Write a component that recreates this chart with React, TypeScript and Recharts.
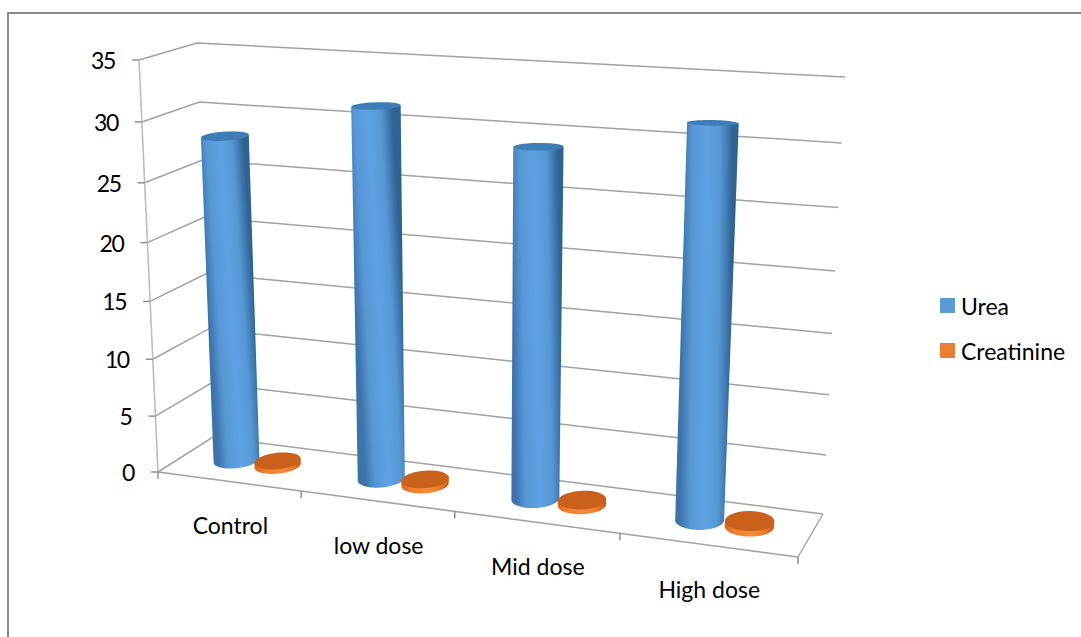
import React from "react";
import { Bar, BarChart, CartesianGrid, Legend, XAxis, YAxis } from "recharts";

// Chart values
const categories = ["Control", "low dose", "Mid dose", "High dose"];
const ureaValues = [28.2, 31.35, 28.85, 31.4];
const creatinineValues = [0.4, 0.45, 0.4, 0.45];
const valueTicks = [0, 5, 10, 15, 20, 25, 30, 35];

const seriesNames = { urea: "Urea", creatinine: "Creatinine" };
const seriesFills = { urea: "#5b9bd5", creatinine: "#ed7d31" };

const chartRows = categories.map((category, i) => ({
  category,
  urea: ureaValues[i],
  creatinine: creatinineValues[i],
}));

// Flat plot rectangle used by the Recharts scales
const WIDTH = 1081;
const HEIGHT = 637;
const PLOT = { left: 100, top: 50, width: 881, height: 537 };
const AXIS_THICKNESS = 1;
const MARGIN = {
  top: PLOT.top,
  right: WIDTH - PLOT.left - PLOT.width,
  bottom: HEIGHT - PLOT.top - PLOT.height - AXIS_THICKNESS,
  left: PLOT.left - AXIS_THICKNESS,
};

type Pt = [number, number];

// Builds a perspective mapping from the unit square onto a quad (TL, TR, BR, BL)
function makeHomography(q: Pt[]) {
  const [[x0, y0], [x1, y1], [x2, y2], [x3, y3]] = q;
  const dx1 = x1 - x2;
  const dx2 = x3 - x2;
  const sx = x0 - x1 + x2 - x3;
  const dy1 = y1 - y2;
  const dy2 = y3 - y2;
  const sy = y0 - y1 + y2 - y3;
  const den = dx1 * dy2 - dx2 * dy1;
  const g = (sx * dy2 - dx2 * sy) / den;
  const h = (dx1 * sy - sx * dy1) / den;
  const a = x1 - x0 + g * x1;
  const b = x3 - x0 + h * x3;
  const d = y1 - y0 + g * y1;
  const e = y3 - y0 + h * y3;
  return (s: number, t: number): Pt => {
    const w = g * s + h * t + 1;
    return [(a * s + b * t + x0) / w, (d * s + e * t + y0) / w];
  };
}

// Front and back faces of the 3D box the chart sits in
const frontFace = makeHomography([[139, 60], [822, 82], [798, 557], [158, 472]]);
const backFace = makeHomography([[197, 43], [845, 77], [823, 514], [213, 437]]);

// Projects a flat plot position plus a depth (0 = back, 1 = front) to the page
function project(fx: number, fy: number, depth: number): Pt {
  const s = (fx - PLOT.left) / PLOT.width;
  const t = (fy - PLOT.top) / PLOT.height;
  const b = backFace(s, t);
  const f = frontFace(s, t);
  return [b[0] + (f[0] - b[0]) * depth, b[1] + (f[1] - b[1]) * depth];
}

const GRID_COLOR = "#a3a09e";
const AXIS_COLOR = "#a0a0a0";
const FONT = "Lato, 'Open Sans', sans-serif";
const FONT_SIZE = 23;

const line = (a: Pt, b: Pt) => `M${a[0]},${a[1]}L${b[0]},${b[1]}`;

// One value level: along the side wall, then across the back wall
function GridLevel(props: any) {
  const fy = props.y1;
  const a = project(PLOT.left, fy, 1);
  const b = project(PLOT.left, fy, 0);
  const c = project(PLOT.left + PLOT.width, fy, 0);
  return (
    <path
      d={`M${a[0]},${a[1]}L${b[0]},${b[1]}L${c[0]},${c[1]}`}
      fill="none"
      stroke={GRID_COLOR}
      strokeWidth={1.5}
    />
  );
}

function ValueTick(props: any) {
  const [px, py] = project(PLOT.left, props.y, 1);
  return (
    <g>
      <path d={`M${px - 7},${py}L${px},${py}`} stroke="#8f8f8f" strokeWidth={1.5} />
      <text x={px - 24} y={py} textAnchor="end" dominantBaseline="central" fontFamily={FONT} fontSize={FONT_SIZE} letterSpacing={-1.4} fill="#000">
        {props.payload.value}
      </text>
    </g>
  );
}

function CategoryTick(props: any) {
  const [px, py] = project(props.x, PLOT.top + PLOT.height, 1);
  return (
    <text x={px + 2} y={py + 44} textAnchor="middle" dominantBaseline="central" fontFamily={FONT} fontSize={FONT_SIZE} fill="#000">
      {props.payload.value}
    </text>
  );
}

// Value axis, floor outline and the category separators
function BoxFrame() {
  const bottom = PLOT.top + PLOT.height;
  const right = PLOT.left + PLOT.width;
  const band = PLOT.width / categories.length;
  const separators = [PLOT.left, ...categories.map((_, i) => PLOT.left + band * (i + 1))];
  return (
    <g>
      <path d={line(project(PLOT.left, PLOT.top, 1), project(PLOT.left, bottom, 1))} stroke="#bdbdbd" strokeWidth={1.6} fill="none" />
      <path d={line(project(PLOT.left, bottom, 1), project(right, bottom, 1))} stroke={AXIS_COLOR} strokeWidth={1.6} fill="none" />
      <path d={line(project(right, bottom, 1), project(right, bottom, 0))} stroke={AXIS_COLOR} strokeWidth={1.4} fill="none" />
      {separators.map((fx) => {
        const p = project(fx, bottom, 1);
        return <path key={fx} d={line(p, [p[0], p[1] + 7])} stroke="#8f8f8f" strokeWidth={1.5} />;
      })}
    </g>
  );
}

type Tone = { left: string; mid: string; light: string; right: string; cap: string };
const ureaTone: Tone = { left: "#3c73a9", mid: "#5696d4", light: "#5fa3e4", right: "#2f6393", cap: "#3f7db8" };
const creatinineTone: Tone = { left: "#d9661f", mid: "#f27f2f", light: "#f58a3a", right: "#c55a16", cap: "#c9601c" };

const RING = 48;
const DEPTH_CENTRE = 0.475;
const DEPTH_RADIUS = 0.23;
const RADIUS_FACTOR = 0.52;

// A cylinder standing on the floor, built from the bar rectangle Recharts computes
function Cylinder(props: any) {
  const { x, y, width, height, index, tone, idPrefix } = props as any;
  const cx = x + width / 2;
  const radius = width * RADIUS_FACTOR;
  const ring = (fy: number): Pt[] =>
    Array.from({ length: RING }, (_, i) => {
      const a = (i / RING) * Math.PI * 2;
      return project(cx + radius * Math.cos(a), fy, DEPTH_CENTRE + DEPTH_RADIUS * Math.sin(a));
    });
  const topRing = ring(y);
  const baseRing = ring(y + height);

  const extreme = (pts: Pt[], sign: number) =>
    pts.reduce((best, p, i) => (p[0] * sign > pts[best][0] * sign ? i : best), 0);
  const baseR = extreme(baseRing, 1);
  const baseL = extreme(baseRing, -1);
  const topR = extreme(topRing, 1);
  const topL = extreme(topRing, -1);

  // Front arc of the base runs from its rightmost to its leftmost point through larger angles
  const frontArc: Pt[] = [];
  for (let i = baseR; ; i = (i + 1) % RING) {
    frontArc.push(baseRing[i]);
    if (i === baseL) break;
  }
  const body = [topRing[topR], ...frontArc, topRing[topL]];
  const toPath = (pts: Pt[]) => `M${pts.map((p) => `${p[0].toFixed(2)},${p[1].toFixed(2)}`).join("L")}Z`;

  // Shading runs across the axis so it follows the lean of the cylinder
  const lMid: Pt = [(topRing[topL][0] + baseRing[baseL][0]) / 2, (topRing[topL][1] + baseRing[baseL][1]) / 2];
  const rMid: Pt = [(topRing[topR][0] + baseRing[baseR][0]) / 2, (topRing[topR][1] + baseRing[baseR][1]) / 2];
  const gradId = `${idPrefix}-${index}`;

  return (
    <g>
      <defs>
        <linearGradient id={gradId} gradientUnits="userSpaceOnUse" x1={lMid[0]} y1={lMid[1]} x2={rMid[0]} y2={rMid[1]}>
          <stop offset="0" stopColor={tone.left} />
          <stop offset="0.2" stopColor={tone.mid} />
          <stop offset="0.5" stopColor={tone.light} />
          <stop offset="0.76" stopColor={tone.mid} />
          <stop offset="1" stopColor={tone.right} />
        </linearGradient>
      </defs>
      <path d={toPath(body)} fill={`url(#${gradId})`} />
      <path d={toPath(topRing)} fill={tone.cap} />
    </g>
  );
}

function LegendBlock(props: any) {
  const order = [seriesNames.urea, seriesNames.creatinine];
  const items = [...(props.payload ?? [])].sort(
    (a: any, b: any) => order.indexOf(a.value) - order.indexOf(b.value),
  );
  return (
    <div>
      {items.map((item: any) => (
        <div key={item.value} style={{ display: "flex", alignItems: "center", height: 45, fontFamily: FONT, fontSize: FONT_SIZE, color: "#000" }}>
          <span style={{ display: "inline-block", width: 15, height: 15, background: item.color, marginRight: 6 }} />
          {item.value}
        </div>
      ))}
    </div>
  );
}

export default function App() {
  return (
    <div style={{ position: "absolute", left: 0, top: 0, width: WIDTH, height: HEIGHT, overflow: "hidden", background: "#fff" }}>
      <div style={{ position: "absolute", left: 7, top: 12, right: 0, bottom: 0, borderTop: "2px solid #8c8c8c", borderLeft: "2px solid #8c8c8c" }} />
      <div style={{ position: "absolute", left: 0, top: 0 }}>
        <BarChart width={WIDTH} height={HEIGHT} data={chartRows} margin={MARGIN} barCategoryGap="22.5%" barGap={6}>
          <CartesianGrid vertical={false} horizontal={(p: any) => <GridLevel key={p.key ?? p.index} {...p} />} />
          <XAxis dataKey="category" height={AXIS_THICKNESS} axisLine={false} tickLine={false} interval={0} tick={(p: any) => <CategoryTick {...p} />} />
          <YAxis width={AXIS_THICKNESS} domain={[0, 35]} ticks={valueTicks} axisLine={false} tickLine={false} interval={0} tick={(p: any) => <ValueTick {...p} />} />
          <BoxFrame />
          <Legend
            layout="vertical"
            align="center"
            verticalAlign="middle"
            content={(p: any) => <LegendBlock {...p} />}
            wrapperStyle={{ left: 940, top: 283, width: 135, bottom: "auto", right: "auto", margin: 0 }}
          />
          <Bar
            dataKey="urea"
            name={seriesNames.urea}
            fill={seriesFills.urea}
            isAnimationActive={false}
            shape={(p: any) => <Cylinder {...p} tone={ureaTone} idPrefix="urea-shade" />}
          />
          <Bar
            dataKey="creatinine"
            name={seriesNames.creatinine}
            fill={seriesFills.creatinine}
            isAnimationActive={false}
            shape={(p: any) => <Cylinder {...p} tone={creatinineTone} idPrefix="creatinine-shade" />}
          />
        </BarChart>
      </div>
    </div>
  );
}
